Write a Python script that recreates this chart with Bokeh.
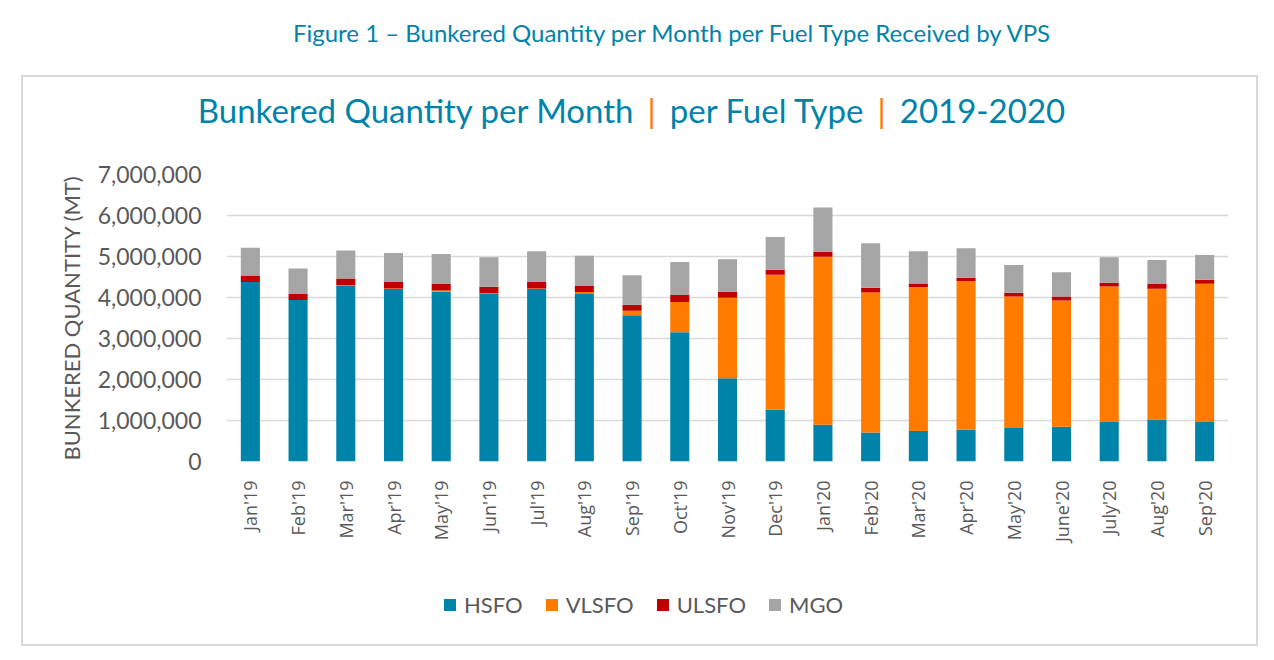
import math
from bokeh.plotting import figure
from bokeh.models import (Legend, LegendItem, NumeralTickFormatter, FixedTicker,
                          ColumnDataSource, Range1d, Div)
from bokeh.layouts import column
from bokeh.embed import file_html
from bokeh.resources import INLINE

months = ["Jan'19", "Feb'19", "Mar'19", "Apr'19", "May'19", "Jun'19", "Jul'19", "Aug'19",
          "Sep'19", "Oct'19", "Nov'19", "Dec'19", "Jan'20", "Feb'20", "Mar'20", "Apr'20",
          "May'20", "June'20", "July'20", "Aug'20", "Sep'20"]
hsfo = [4377000, 3940000, 4280000, 4205000, 4140000, 4083000, 4205000, 4083000, 3570000,
        3154000, 2029000, 1271000, 896000, 709000, 742000, 774000, 815000, 848000, 962000,
        1027000, 962000]
vlsfo = [0, 0, 20000, 15000, 30000, 20000, 15000, 50000, 106000, 734000, 1964000, 3285000,
         4100000, 3415000, 3512000, 3627000, 3211000, 3080000, 3309000, 3186000, 3374000]
ulsfo = [160000, 145000, 166000, 157000, 158000, 159000, 157000, 146000, 146000, 171000,
         147000, 122000, 122000, 114000, 90000, 81000, 90000, 98000, 89000, 115000, 98000]
mgo = [676000, 620000, 680000, 710000, 730000, 718000, 749000, 741000, 718000, 806000,
       790000, 799000, 1076000, 1084000, 782000, 718000, 676000, 587000, 620000, 586000, 603000]
fuel_types = ["HSFO", "VLSFO", "ULSFO", "MGO"]
y_ticks = [0, 1000000, 2000000, 3000000, 4000000, 5000000, 6000000, 7000000]

caption_text = "Figure 1 \u2013 Bunkered Quantity per Month per Fuel Type Received by VPS"
title_parts = ["Bunkered Quantity per Month", "per Fuel Type", "2019-2020"]

colors = ["#0083A9", "#FF7B00", "#C00000", "#A5A5A5"]
TEAL = "#0083A9"
ORANGE = "#FF7B00"
GRAY = "#595959"
FONT = "Lato"

src = ColumnDataSource(dict(month=months, HSFO=hsfo, VLSFO=vlsfo, ULSFO=ulsfo, MGO=mgo))

# ---- main chart ----
p = figure(x_range=months, y_range=Range1d(0, 7000000),
           frame_width=1002, frame_height=287,
           output_backend="svg", toolbar_location=None,
           min_border_left=203, min_border_right=28, min_border_top=31, min_border_bottom=100,
           margin=0)
p.title.visible = False
p.outline_line_color = None
p.background_fill_color = "white"
p.border_fill_color = "white"

rs = p.vbar_stack(fuel_types, x="month", width=0.4, color=colors, source=src, line_width=0)

p.xgrid.grid_line_color = None
p.ygrid.grid_line_color = "#d9d9d9"
p.ygrid.grid_line_width = 1.5

p.yaxis.ticker = FixedTicker(ticks=y_ticks)
p.yaxis.formatter = NumeralTickFormatter(format="0,0")
p.yaxis.axis_line_color = None
p.yaxis.major_tick_line_color = None
p.yaxis.minor_tick_line_color = None
p.yaxis.major_tick_out = 0
p.yaxis.minor_tick_out = 0
p.yaxis.major_label_standoff = 25
p.yaxis.major_label_text_font = FONT
p.yaxis.major_label_text_font_size = "23px"
p.yaxis.major_label_text_color = GRAY
p.yaxis.axis_label = "BUNKERED QUANTITY (MT)"
p.yaxis.axis_label_text_font = FONT
p.yaxis.axis_label_text_font_size = "22px"
p.yaxis.axis_label_text_font_style = "normal"
p.yaxis.axis_label_text_color = GRAY
p.yaxis.axis_label_standoff = 10

p.xaxis.axis_line_color = None
p.xaxis.major_tick_line_color = None
p.xaxis.minor_tick_line_color = None
p.xaxis.major_tick_out = 0
p.xaxis.minor_tick_out = 0
p.xaxis.major_label_orientation = math.pi / 2
p.xaxis.major_label_standoff = 19
p.xaxis.major_label_text_font = "Open Sans"
p.xaxis.major_label_text_font_size = "18px"
p.xaxis.major_label_text_color = GRAY

# ---- legend strip: hidden copies of the stacked bars provide the legend swatches ----
lf = figure(width=1233, height=83, x_range=p.x_range, y_range=Range1d(-2, -1),
            x_axis_type=None, y_axis_type=None, output_backend="svg", toolbar_location=None,
            min_border_left=203, min_border_right=28, min_border_top=0, min_border_bottom=0,
            margin=0)
lf.title.visible = False
lf.outline_line_color = None
lf.xgrid.grid_line_color = None
lf.ygrid.grid_line_color = None
swatches = lf.vbar_stack(fuel_types, x="month", width=0.4, color=colors, source=src, line_width=0)
for s in swatches:
    s.visible = False
legend = Legend(items=[LegendItem(label=f, renderers=[r]) for f, r in zip(fuel_types, swatches)],
                orientation="horizontal", location=(216, 26),
                glyph_width=15, glyph_height=15, label_standoff=7, spacing=21,
                padding=0, margin=0, border_line_color=None, background_fill_alpha=0,
                inactive_fill_alpha=0,
                label_text_font=FONT, label_text_font_size="22px", label_text_color=GRAY)
lf.add_layout(legend)

cap = Div(text=f"<div style='font-family:Lato;font-size:24px;color:{TEAL};line-height:66px;"
               f"width:1258px;text-align:center;padding-left:85px;white-space:nowrap'>"
               f"{caption_text}</div>",
          width=1258, height=75, margin=0)

pipe = f"<span style='color:{ORANGE};padding:0 14px'>|</span>"
ttl = Div(text=f"<div style='font-family:Lato;font-size:33px;color:{TEAL};line-height:66px;"
               f"width:1233px;text-align:center;padding-right:16px;white-space:nowrap'>"
               f"{title_parts[0]}{pipe}{title_parts[1]}{pipe}{title_parts[2]}</div>",
          width=1233, height=66, margin=0)

box = column(ttl, p, lf, margin=(0, 0, 0, 21), spacing=0,
             styles={"border": "2px solid #d9d9d9"})
layout = column(cap, box, spacing=0, margin=0)

open("out.html", "w").write(file_html(layout, INLINE))
